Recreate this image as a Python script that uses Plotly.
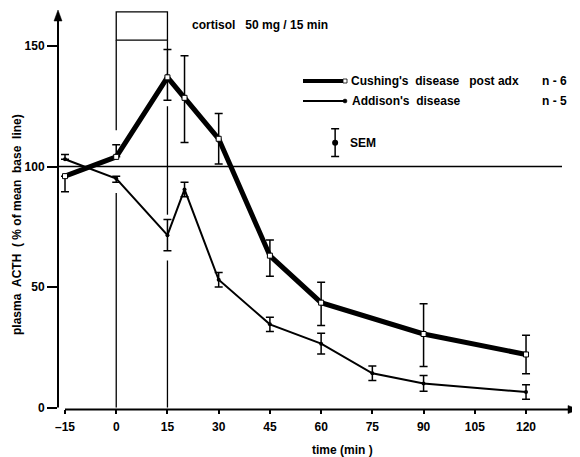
import plotly.graph_objects as go

# ---------------- data ----------------
time_ticks = [-15, 0, 15, 30, 45, 60, 75, 90, 105, 120]
acth_ticks = [0, 50, 100, 150]

cush_t = [-15, 0, 15, 20, 30, 45, 60, 90, 120]
cush_v = [96, 104, 137, 128.5, 111.5, 63, 43.5, 30.5, 22]
cush_sem_up = [0, 5, 11.5, 17.5, 10.5, 6.5, 8.5, 12.5, 8]
cush_sem_dn = [6.5, 0, 9.5, 18.5, 10.5, 8.5, 9.5, 13.5, 8]

add_t = [-15, 0, 15, 20, 30, 45, 60, 75, 90, 120]
add_v = [103, 95, 71.5, 90.5, 53, 34.5, 26.5, 14.2, 10, 6.4]
add_sem_up = [2, 1, 6.5, 3, 3, 3, 4.3, 3, 3.3, 3]
add_sem_dn = [0, 1.5, 6.5, 3, 3, 3, 4.3, 3, 3.3, 3]

baseline = 100
cortisol_start, cortisol_end = 0, 15
cortisol_box = [152.4, 164.2]
# visible pieces of the infusion start/end verticals (value ranges)
start_line_pieces = [[0, 89], [115, 152.4]]
end_line_pieces = [[0, 61], [80, 125], [148.5, 152.4]]

# ---------------- geometry helpers ----------------
OFF = 8  # default page body margin
W, H = 580 - OFF, 457 - OFF
ML, MR, MT, MB = 58 - OFF, 0, 0, 48
PW, PH = W - ML - MR, H - MT - MB
PX_PER_MIN = 3.415
PX_PER_UNIT = 2.41
PLOT_LEFT = ML + OFF          # page px
PLOT_BOTTOM = MT + PH + OFF   # page px
X0 = -15 - (65 - PLOT_LEFT) / PX_PER_MIN
X1 = X0 + PW / PX_PER_MIN
Y0 = -(PLOT_BOTTOM - 407.5) / PX_PER_UNIT
Y1 = Y0 + PH / PX_PER_UNIT


def xp(px):
    return (px - PLOT_LEFT) / PW


def yp(py):
    return (PLOT_BOTTOM - py) / PH


FONT = dict(family="Liberation Sans", size=12, color="black", weight="bold")

fig = go.Figure()

fig.add_trace(go.Scatter(
    x=cush_t, y=cush_v, mode="lines+markers",
    line=dict(color="black", width=5),
    marker=dict(symbol="square", size=5, color="white", line=dict(color="black", width=1)),
    error_y=dict(type="data", symmetric=False, array=cush_sem_up, arrayminus=cush_sem_dn,
                 color="black", thickness=1.5, width=4),
    showlegend=False, hoverinfo="skip"))

fig.add_trace(go.Scatter(
    x=add_t, y=add_v, mode="lines+markers",
    line=dict(color="black", width=2),
    marker=dict(symbol="circle", size=4, color="black"),
    error_y=dict(type="data", symmetric=False, array=add_sem_up, arrayminus=add_sem_dn,
                 color="black", thickness=1.5, width=4),
    showlegend=False, hoverinfo="skip"))

# SEM key
sem_key_t = [64.1]
sem_key_v = [109.9]
sem_key_err = [5.75]
fig.add_trace(go.Scatter(
    x=sem_key_t, y=sem_key_v, mode="markers",
    marker=dict(symbol="circle", size=6, color="black"),
    error_y=dict(type="data", array=sem_key_err, color="black", thickness=1.5, width=4),
    showlegend=False, hoverinfo="skip"))

shapes = []
LC = dict(color="black", width=1.3)
# baseline 100
shapes.append(dict(type="line", xref="paper", yref="y", x0=0, x1=xp(562),
                   y0=baseline, y1=baseline, line=dict(color="black", width=1.5)))
# cortisol box
shapes.append(dict(type="rect", xref="x", yref="y", x0=cortisol_start, x1=cortisol_end,
                   y0=cortisol_box[0], y1=cortisol_box[1], line=LC))
for a, b in start_line_pieces:
    shapes.append(dict(type="line", xref="x", yref="y", x0=cortisol_start, x1=cortisol_start,
                       y0=a, y1=b, line=LC))
for a, b in end_line_pieces:
    shapes.append(dict(type="line", xref="x", yref="y", x0=cortisol_end, x1=cortisol_end,
                       y0=a, y1=b, line=LC))
# axes lines
shapes.append(dict(type="line", xref="paper", yref="paper", x0=0, x1=0,
                   y0=yp(407.5), y1=yp(19), line=dict(color="black", width=2)))
shapes.append(dict(type="line", xref="paper", yref="paper", x0=xp(65), x1=xp(570),
                   y0=yp(409.5), y1=yp(409.5), line=dict(color="black", width=2)))
# arrow heads
shapes.append(dict(type="path", xref="paper", yref="paper", xsizemode="pixel", ysizemode="pixel",
                   xanchor=0, yanchor=yp(10), path="M0,0 L-4,-11 L4,-11 Z",
                   fillcolor="black", line=dict(color="black", width=0.5)))
shapes.append(dict(type="path", xref="paper", yref="paper", xsizemode="pixel", ysizemode="pixel",
                   xanchor=xp(579), yanchor=yp(409.5), path="M0,0 L-11,4 L-11,-4 Z",
                   fillcolor="black", line=dict(color="black", width=0.5)))
# legend samples
shapes.append(dict(type="line", xref="paper", yref="paper", x0=xp(303), x1=xp(345),
                   y0=yp(81), y1=yp(81), line=dict(color="black", width=4)))
shapes.append(dict(type="rect", xref="paper", yref="paper", x0=xp(343), x1=xp(347),
                   y0=yp(79), y1=yp(83), fillcolor="white", line=dict(color="black", width=0.8)))
shapes.append(dict(type="line", xref="paper", yref="paper", x0=xp(303), x1=xp(345),
                   y0=yp(101), y1=yp(101), line=dict(color="black", width=2)))
shapes.append(dict(type="circle", xref="paper", yref="paper", x0=xp(343), x1=xp(347),
                   y0=yp(99), y1=yp(103), fillcolor="black", line=dict(color="black", width=0.5)))

ann = []


def text(px, py, s, xanchor="left", angle=0):
    ann.append(dict(xref="paper", yref="paper", x=xp(px), y=yp(py), text=s, showarrow=False,
                    xanchor=xanchor, yanchor="middle", font=FONT, textangle=angle))


text(190, 25, "cortisol&nbsp;&nbsp;&nbsp;50 mg / 15 min")
text(349, 81, "Cushing's&nbsp;&nbsp;disease&nbsp;&nbsp;&nbsp;post adx")
text(540, 81, "n - 6")
text(350, 101, "Addison's&nbsp;&nbsp;disease")
text(540, 101, "n - 5")
text(348, 143, "SEM")
text(342, 450, "time (min )", xanchor="center")
text(17, 225, "plasma&nbsp;&nbsp;ACTH&nbsp;&nbsp;(&nbsp;% of mean&nbsp;&nbsp;base&nbsp;&nbsp;line)", xanchor="center", angle=-90)

fig.update_layout(
    width=W, height=H, margin=dict(l=ML, r=MR, t=MT, b=MB),
    paper_bgcolor="white", plot_bgcolor="white",
    shapes=shapes, annotations=ann, showlegend=False,
    xaxis=dict(range=[X0, X1], tickvals=time_ticks, ticktext=[str(v).replace("-", "–") for v in time_ticks],
               ticks="outside", ticklen=4, tickwidth=1.5, tickcolor="black",
               showgrid=False, zeroline=False, showline=False, tickfont=FONT, ticklabelstandoff=3),
    yaxis=dict(range=[Y0, Y1], tickvals=acth_ticks, ticks="outside", ticklen=10, tickwidth=1.5,
               tickcolor="black", showgrid=False, zeroline=False, showline=False, tickfont=FONT,
               ticklabelstandoff=0),
)

fig.write_html("out.html")
